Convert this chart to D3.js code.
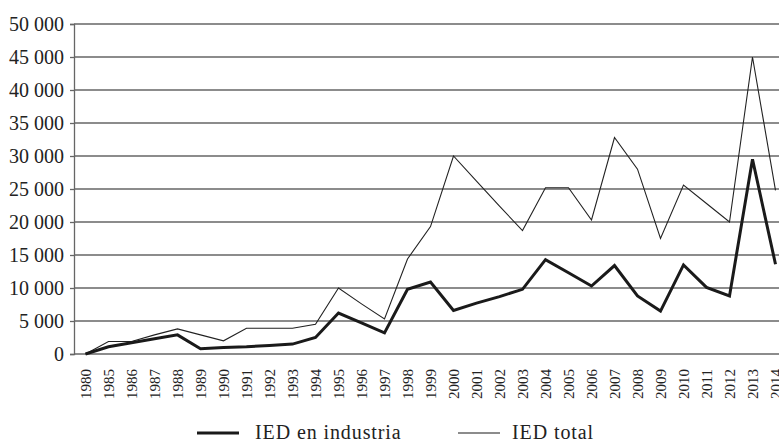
<!DOCTYPE html>
<html>
<head>
<meta charset="utf-8">
<script src="https://cdn.jsdelivr.net/npm/d3@7"></script>
<style>
  body { margin: 0; background: #fff; }
  svg { display: block; font-family: "Liberation Serif", "Times New Roman", serif; }
</style>
</head>
<body>
<script>
// years on the category axis
var years = ["1980", "1985", "1986", "1987", "1988", "1989", "1990", "1991", "1992", "1993",
             "1994", "1995", "1996", "1997", "1998", "1999", "2000", "2001", "2002", "2003",
             "2004", "2005", "2006", "2007", "2008", "2009", "2010", "2011", "2012", "2013", "2014"];

// IED en industria (thick line)
var iedIndustria = [0, 1100, 1700, 2300, 2900, 800, 1000, 1100, 1300, 1500,
                    2500, 6200, 4700, 3200, 9800, 10900, 6600, 7700, 8700, 9800,
                    14300, 12300, 10300, 13400, 8800, 6500, 13500, 10100, 8800, 29500, 13600];

// IED total (thin line)
var iedTotal = [0, 1900, 1900, 2900, 3800, 2900, 2000, 3900, 3900, 3900,
                4500, 10000, 7600, 5300, 14400, 19300, 30000, 26200, 22400, 18700,
                25200, 25200, 20300, 32800, 28000, 17500, 25600, 22800, 20000, 45000, 24800];

var yTicks = [0, 5000, 10000, 15000, 20000, 25000, 30000, 35000, 40000, 45000, 50000];

var w = 779, h = 443;
var mLeft = 74, mTop = 24, mBottom = 354;
var band = 23;

var svg = d3.select("body").append("svg")
    .attr("width", w)
    .attr("height", h);

var x = d3.scaleBand()
    .domain(years)
    .range([mLeft, mLeft + years.length * band]);

var y = d3.scaleLinear()
    .domain([0, 50000])
    .range([mBottom, mTop]);

var fmt = function(d) { return d3.format(",")(d).replace(/,/g, " "); };

/* horizontal gridlines */
svg.append("g")
    .selectAll("line")
    .data(yTicks)
    .enter()
    .append("line")
        .attr("x1", mLeft)
        .attr("x2", w)
        .attr("y1", function(d) { return y(d); })
        .attr("y2", function(d) { return y(d); })
        .style("stroke", "#666")
        .style("stroke-width", 1.3);

/* y axis */
var yAxis = svg.append("g")
    .attr("transform", "translate(" + mLeft + ",0)")
    .call(d3.axisLeft(y).tickValues(yTicks).tickSize(4).tickPadding(6).tickFormat(fmt));
yAxis.select(".domain").style("stroke", "#666").style("stroke-width", 1.3);
yAxis.selectAll(".tick line").style("stroke", "#666").style("stroke-width", 1.3);
yAxis.selectAll("text")
    .style("font-family", "Liberation Serif, serif")
    .style("font-size", "20px")
    .style("fill", "#222");

/* x labels, rotated */
svg.append("g")
    .selectAll("text")
    .data(years)
    .enter()
    .append("text")
        .attr("transform", function(d) {
            return "translate(" + (x(d) + x.bandwidth() / 2) + "," + 369 + ") rotate(-90)";
        })
        .attr("text-anchor", "end")
        .attr("dy", "0.35em")
        .style("font-size", "15px")
        .style("fill", "#222")
        .text(function(d) { return d; });

var line = function(vals) {
    return d3.line()
        .x(function(d, i) { return x(years[i]) + x.bandwidth() / 2; })
        .y(function(d) { return y(d); })(vals);
};

svg.append("path")
    .attr("d", line(iedTotal))
    .style("fill", "none")
    .style("stroke", "#222")
    .style("stroke-width", 1.1);

svg.append("path")
    .attr("d", line(iedIndustria))
    .style("fill", "none")
    .style("stroke", "#1a1a1a")
    .style("stroke-width", 3)
    .style("stroke-linejoin", "miter");

/* legend */
var legend = [
    {name: "IED en industria", x1: 197, x2: 239, tx: 255, sw: 3},
    {name: "IED total", x1: 458, x2: 500, tx: 512, sw: 1.1}
];
var lg = svg.append("g").selectAll("g").data(legend).enter().append("g");
lg.append("line")
    .attr("x1", function(d) { return d.x1; })
    .attr("x2", function(d) { return d.x2; })
    .attr("y1", 433)
    .attr("y2", 433)
    .style("stroke", "#1a1a1a")
    .style("stroke-width", function(d) { return d.sw; });
lg.append("text")
    .attr("x", function(d) { return d.tx; })
    .attr("y", 439)
    .style("font-size", "20px")
    .style("letter-spacing", "0.9px")
    .style("fill", "#222")
    .text(function(d) { return d.name; });
</script>
</body>
</html>
